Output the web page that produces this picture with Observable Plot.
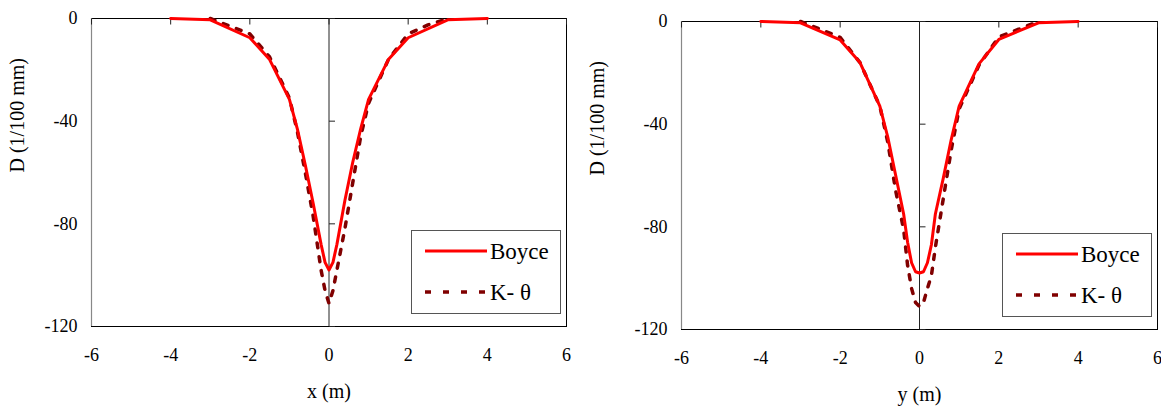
<!DOCTYPE html>
<html>
<head>
<meta charset="utf-8">
<script src="https://cdn.jsdelivr.net/npm/d3@7"></script>
<script src="https://cdn.jsdelivr.net/npm/@observablehq/plot@0.6"></script>
</head>
<body style="margin:0;padding:0;background:#fff;font-family:'Liberation Serif'">
<div id="wrap" style="position:relative;width:1161px;height:410px;font-family:'Liberation Serif'"></div>
<script>
// ---- data ----
const xTicks = [-6, -4, -2, 0, 2, 4, 6];
const yTicks = [0, -40, -80, -120];
const seriesNames = ["Boyce", "K- θ"];
const axisTitles = ["x (m)", "y (m)"];
const yTitle = "D (1/100 mm)";

// left panel (x direction)
const leftBoyceX = [-4, -3, -2, -1.5, -1, -0.8, -0.6, -0.4, -0.2, -0.1, 0, 0.1, 0.2, 0.4, 0.6, 0.8, 1, 1.5, 2, 3, 4];
const leftBoyceD = [0, -0.5, -7.5, -16, -31.5, -43, -57, -72, -88, -95, -98, -95, -88, -71, -56, -43, -31.5, -16, -7.5, -0.5, 0];
const leftKX = [-3, -2.5, -2, -1.5, -1, -0.8, -0.6, -0.4, -0.2, -0.1, 0, 0.1, 0.2, 0.4, 0.6, 0.8, 1, 1.5, 2, 2.5, 3];
const leftKD = [0, -3, -6, -15, -31, -44, -60, -77, -98, -106, -111, -106, -98, -82, -64, -46, -33, -16, -6, -2.5, 0];

// right panel (y direction)
const rightBoyceX = [-4, -3, -2, -1.5, -1, -0.8, -0.6, -0.4, -0.3, -0.2, -0.1, 0, 0.1, 0.2, 0.3, 0.4, 0.6, 0.8, 1, 1.5, 2, 3, 4];
const rightBoyceD = [0, -0.5, -7.2, -16, -33, -45, -60, -75, -86, -94, -97.5, -98, -97.5, -94, -87, -75, -61, -46, -33, -16.5, -7, -0.5, 0];
const rightKX = [-3, -2.5, -2, -1.5, -1, -0.8, -0.6, -0.4, -0.3, -0.2, -0.1, 0, 0.1, 0.2, 0.3, 0.4, 0.6, 0.8, 1, 1.5, 2, 2.5, 3];
const rightKD = [0, -3, -6.2, -16, -33, -47, -66, -81, -95, -104, -109.5, -111, -109.5, -104, -99, -88, -69, -50, -34, -17, -6, -3, 0];

// ---- styles ----
const colors = ["#ff0000", "#800000"];
const widths = [3, 3.5];
const dashes = [null, "5,9"];
const legendDashes = [null, "6,12"];
const serif = "Liberation Serif";

const tickRight = { draw(ctx) { ctx.moveTo(0, 0); ctx.lineTo(6, 0); } };
const tickDown = { draw(ctx) { ctx.moveTo(0, 0); ctx.lineTo(0, 6); } };

function toRows(xs, ds) { return xs.map((x, i) => ({ x, d: ds[i] })); }

function panel({ boyce, k, title, width, margins }) {
  const data = [boyce, k];
  return Plot.plot({
    width, height: 410,
    marginLeft: margins[0], marginRight: margins[1], marginTop: margins[2], marginBottom: margins[3],
    style: { fontFamily: serif, fontSize: "18px", color: "#000", background: "#fff" },
    x: { domain: [xTicks[0], xTicks[xTicks.length - 1]], axis: null, label: null },
    y: { domain: [yTicks[yTicks.length - 1], yTicks[0]], axis: null, label: null },
    marks: [
      Plot.frame({ stroke: "#000", strokeWidth: 1 }),
      Plot.ruleX([xTicks[0]], { stroke: "#888", strokeWidth: 1.2 }),
      Plot.ruleX([0], { stroke: "#222", strokeWidth: 1 }),
      Plot.dot(yTicks, { x: 0, y: d => d, symbol: tickRight, r: 3, stroke: "#222", fill: "none", strokeWidth: 1 }),
      Plot.dot(xTicks, { x: d => d, y: 0, symbol: tickDown, r: 3, stroke: "#222", fill: "none", strokeWidth: 1 }),
      Plot.axisY({ ticks: yTicks, tickSize: 0, tickPadding: 14, tickFormat: d => String(d), fontSize: 18 }),
      Plot.axisX({ ticks: xTicks, tickSize: 0, tickPadding: 22, tickFormat: d => String(d), fontSize: 18 }),
      Plot.text([title], { frameAnchor: "bottom", dy: 71, fontSize: 20, fill: "#000" }),
      Plot.text([yTitle], { frameAnchor: "left", dx: -margins[0] + 17, rotate: -90, fontSize: 20, fill: "#000" }),
      ...data.map((s, i) => Plot.line(s, {
        x: "x", y: "d", stroke: colors[i], strokeWidth: widths[i],
        strokeDasharray: dashes[i], curve: "linear", strokeLinejoin: "round"
      })).reverse()
    ]
  });
}

function legend(left, top) {
  const w = 150, h = 84;
  const svg = d3.create("svg").attr("width", w).attr("height", h);
  svg.node().style.position = "absolute";
  svg.node().style.left = left + "px";
  svg.node().style.top = top + "px";
  svg.append("rect").attr("x", 0.5).attr("y", 0.5).attr("width", w - 1).attr("height", h - 1)
    .attr("fill", "#fff").attr("stroke", "#555").attr("stroke-width", 1);
  seriesNames.forEach((name, i) => {
    const cy = 21 + i * 41;
    svg.append("line").attr("x1", 14).attr("x2", 76).attr("y1", cy).attr("y2", cy)
      .attr("stroke", colors[i]).attr("stroke-width", widths[i])
      .attr("stroke-dasharray", legendDashes[i]);
    svg.append("text").attr("x", 79).attr("y", cy).attr("dy", "0.35em")
      .attr("font-family", serif).attr("font-size", 23)
      .attr("fill", "#000").text(name);
  });
  return svg.node();
}

const wrap = document.getElementById("wrap");
const left = panel({ boyce: toRows(leftBoyceX, leftBoyceD), k: toRows(leftKX, leftKD), title: axisTitles[0], width: 580, margins: [91, 14, 18, 84] });
left.style.position = "absolute"; left.style.top = "0px"; left.style.left = "0px";
const right = panel({ boyce: toRows(rightBoyceX, rightBoyceD), k: toRows(rightKX, rightKD), title: axisTitles[1], width: 581, margins: [101, 4, 21, 81] });
right.style.position = "absolute"; right.style.top = "0px"; right.style.left = "580px";
wrap.appendChild(left);
wrap.appendChild(right);
wrap.appendChild(legend(411, 230));
wrap.appendChild(legend(1002, 233));
</script>
</body>
</html>
